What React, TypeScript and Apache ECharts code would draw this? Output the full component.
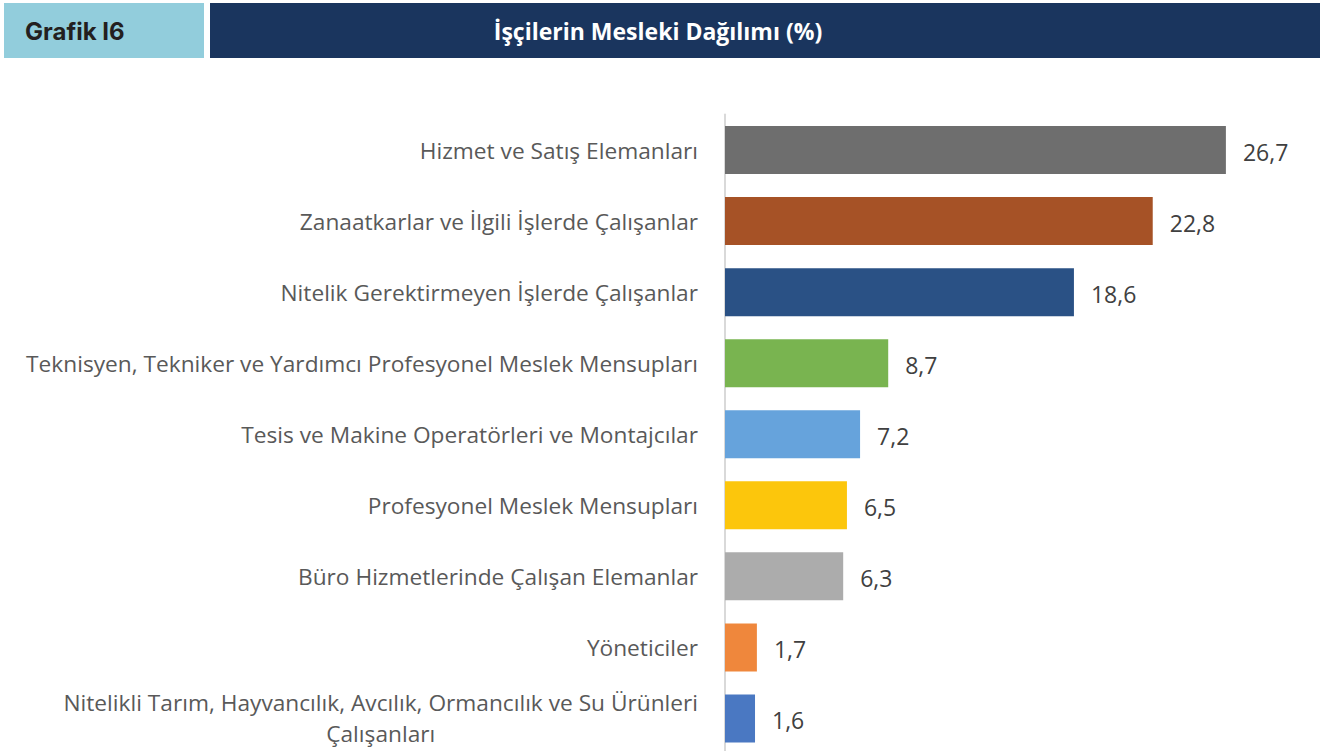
import React, { useEffect, useRef } from "react";
import * as echarts from "echarts";

const headerLabel = "Grafik I6";
const titleText = "İşçilerin Mesleki Dağılımı (%)";

const categories = [
  "Hizmet ve Satış Elemanları",
  "Zanaatkarlar ve İlgili İşlerde Çalışanlar",
  "Nitelik Gerektirmeyen İşlerde Çalışanlar",
  "Teknisyen, Tekniker ve Yardımcı Profesyonel Meslek Mensupları",
  "Tesis ve Makine Operatörleri ve Montajcılar",
  "Profesyonel Meslek Mensupları",
  "Büro Hizmetlerinde Çalışan Elemanlar",
  "Yöneticiler",
  "Nitelikli Tarım, Hayvancılık, Avcılık, Ormancılık ve Su Ürünleri\nÇalışanları",
];

const values = [26.7, 22.8, 18.6, 8.7, 7.2, 6.5, 6.3, 1.7, 1.6];

const barColors = [
  "#6e6e6e",
  "#a65226",
  "#2a5185",
  "#79b450",
  "#66a3dc",
  "#fcc60c",
  "#acacac",
  "#ef873c",
  "#4a78c2",
];

export default function App() {
  const ref = useRef<HTMLDivElement>(null);
  useEffect(() => {
    if (!ref.current) return;
    const chart = echarts.init(ref.current, null, { renderer: "svg" });
    const fontFamily = "'Open Sans', sans-serif";
    chart.setOption({
      animation: false,
      backgroundColor: "#ffffff",
      graphic: [
        { type: "rect", shape: { x: 4, y: 3, width: 200, height: 55 }, style: { fill: "#92cddc" } },
        { type: "rect", shape: { x: 210, y: 3, width: 1110, height: 55 }, style: { fill: "#1a355e" } },
        {
          type: "text",
          x: 25,
          y: 31,
          style: {
            text: headerLabel,
            fill: "#231f20",
            font: "bold 24px Inter, sans-serif",
            verticalAlign: "middle",
          },
        },
        {
          type: "text",
          x: 658,
          y: 31,
          style: {
            text: titleText,
            fill: "#ffffff",
            font: "bold 23px 'Open Sans', sans-serif",
            align: "center",
            verticalAlign: "middle",
          },
        },
      ],
      grid: {
        left: 725,
        width: 562.8,
        top: 114.5,
        height: 639.5,
        containLabel: false,
        outerBoundsMode: "none",
      },
      xAxis: {
        type: "value",
        min: 0,
        max: 30,
        show: false,
      },
      yAxis: {
        type: "category",
        data: categories,
        inverse: true,
        axisLine: { show: true, lineStyle: { color: "#d9d9d9", width: 2 } },
        axisTick: { show: false },
        axisLabel: {
          margin: 27,
          color: "#595959",
          fontFamily,
          fontSize: 22.7,
          formatter: (v: string) => "{c|" + v.split("\n").join("}\n{c|") + "}",
          rich: {
            c: { align: "center", color: "#595959", fontFamily, fontSize: 22.7, lineHeight: 31 },
          },
        },
      },
      series: [
        {
          type: "bar",
          data: values.map((v, i) => ({ value: v, itemStyle: { color: barColors[i] } })),
          barWidth: 48,
          label: {
            show: true,
            position: "right",
            distance: 17,
            color: "#404040",
            fontFamily,
            fontSize: 23,
            offset: [0, 2],
            formatter: (p: any) => String(p.value.toFixed(1)).replace(".", ","),
          },
        },
      ],
    });
    return () => chart.dispose();
  }, []);
  return (
    <div
      ref={ref}
      style={{ position: "fixed", left: 0, top: 0, width: 1330, height: 751 }}
    />
  );
}
